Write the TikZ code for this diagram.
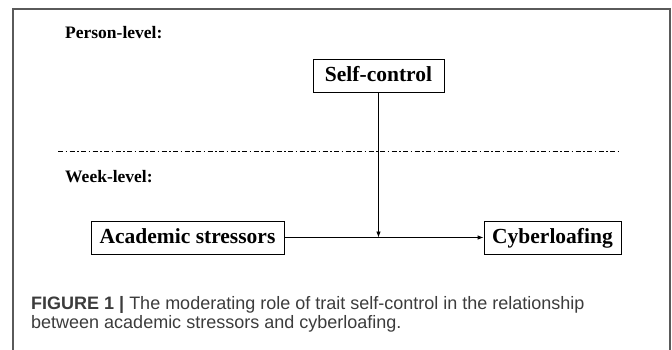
\documentclass[tikz,border=0pt]{standalone}
\usepackage{fontspec}
\setmainfont{Liberation Serif}
\newfontfamily\capfont{Liberation Sans}
\usetikzlibrary{arrows.meta}
\definecolor{framegray}{HTML}{5A5A5A}
\definecolor{capgray}{HTML}{3C3C3C}
\tikzset{
  varbox/.style={draw=black, line width=0.8pt, font=\fontsize{21.5}{24}\selectfont\bfseries,
    text height=15pt, text depth=4pt, inner xsep=0pt, inner ysep=7pt},
  levellabel/.style={anchor=west, font=\fontsize{17.5}{20}\selectfont\bfseries, inner sep=0pt},
  conn/.style={line width=0.8pt, -{Latex[length=6pt,width=4.5pt]}},
}
\begin{document}
\begin{tikzpicture}[x=1pt,y=-1pt]
\useasboundingbox (0,0) rectangle (672,350);
% frame
\draw[framegray, line width=1.3pt] (13,352) -- (13,9) -- (670,9) -- (670,352);
\node[levellabel] (pl) at (65,33) {Person-level:};
\node[varbox, minimum width=131pt] (sc) at (378.5,76) {Self-control};
\coordinate (dl) at (58,151);
\coordinate (dr) at (620,151);
\draw[line width=0.7pt, dash pattern=on 5pt off 2.5pt on 1.5pt off 2.5pt] (dl) -- (dr);
\node[levellabel] (wl) at (65,177) {Week-level:};
\node[varbox, minimum width=193pt] (as) at (187.5,237.5) {Academic stressors};
\node[varbox, minimum width=137pt] (cl) at (552.5,237.5) {Cyberloafing};
\draw[conn] (as.east) -- (cl.west);
\coordinate (mid) at (sc.south |- as.east);
\draw[conn] (sc.south) -- (mid);
\node[anchor=north west, inner sep=0pt, font=\capfont\fontsize{18}{19}\selectfont, text=capgray, align=left] (cap) at (31,296)
 {\textbf{FIGURE 1 |} The moderating role of trait self-control in the relationship\\between academic stressors and cyberloafing.};
\end{tikzpicture}
\end{document}
